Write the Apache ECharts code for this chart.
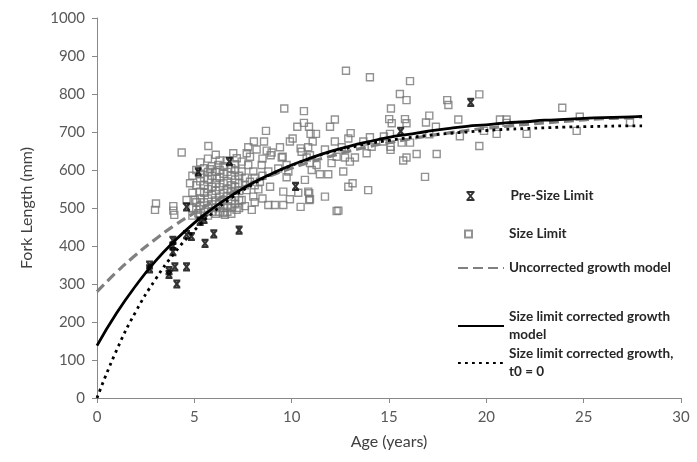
<!DOCTYPE html>
<html>
<head>
<meta charset="utf-8">
<script src="https://cdn.jsdelivr.net/npm/echarts@6/dist/echarts.min.js"></script>
<style>
    html, body { margin: 0; padding: 0; background: #fff; }
    #chart { width: 697px; height: 462px; }
</style>
</head>
<body>
<div id="chart"></div>
<script>
    // fish ages (years) and fork lengths (mm)
    var preSizeLimit = [
        [2.7, 350], [2.7, 340], [3.7, 335], [3.7, 325], [3.9, 415], [3.9, 400], [3.9, 385],
        [4.0, 345], [4.1, 300], [4.6, 345], [4.6, 430], [4.85, 425], [4.6, 503], [5.3, 465],
        [5.5, 470], [5.55, 407], [6.0, 432], [7.3, 442], [5.2, 595], [6.8, 622], [10.2, 557],
        [15.6, 702], [19.2, 778]
    ];

    var sizeLimit = [
        // left of the main cluster
        [4.35, 646], [5.72, 663], [4.78, 565], [3.03, 512], [2.98, 495], [3.92, 505], [3.92, 493],
        [3.97, 482], [4.6, 521], [5.03, 521], [5.29, 543], [5.2, 486], [5.8, 602], [6.23, 613],
        [6.15, 578], [5.9, 556], [7.0, 644], [7.18, 631], [6.57, 482], [6.49, 486], [7.17, 495],
        // dense cluster
        [4.9, 480], [4.9, 500], [4.9, 540], [4.9, 585],
        [5.1, 495], [5.1, 515], [5.1, 560], [5.1, 600],
        [5.3, 480], [5.3, 505], [5.3, 525], [5.3, 570], [5.3, 590], [5.3, 620],
        [5.5, 490], [5.5, 515], [5.5, 540], [5.5, 560], [5.5, 580], [5.5, 605],
        [5.7, 480], [5.7, 500], [5.7, 525], [5.7, 550], [5.7, 575], [5.7, 595], [5.7, 630],
        [5.9, 490], [5.9, 510], [5.9, 535], [5.9, 585], [5.9, 610],
        [6.1, 485], [6.1, 500], [6.1, 520], [6.1, 545], [6.1, 565], [6.1, 595], [6.1, 640],
        [6.3, 490], [6.3, 510], [6.3, 530], [6.3, 555], [6.3, 580], [6.3, 600], [6.3, 625],
        [6.5, 500], [6.5, 520], [6.5, 540], [6.5, 565], [6.5, 590], [6.5, 610],
        [6.7, 490], [6.7, 505], [6.7, 530], [6.7, 550], [6.7, 570], [6.7, 595], [6.7, 625],
        [6.9, 485], [6.9, 500], [6.9, 520], [6.9, 545], [6.9, 560], [6.9, 585], [6.9, 605],
        [7.1, 510], [7.1, 530], [7.1, 555], [7.1, 575], [7.1, 600], [7.1, 615],
        [7.3, 500], [7.3, 520], [7.3, 545], [7.3, 565], [7.3, 585],
        [7.6, 505], [7.6, 560], [7.6, 580], [8.1, 515], [8.1, 560], [8.1, 580],
        [8.5, 525], [8.5, 585], [8.5, 630],
        // ages 7.5 - 12.5
        [9.62, 762], [10.63, 755], [10.63, 724], [10.29, 714], [10.89, 714], [8.68, 703], [12.22, 733],
        [11.97, 714], [10.05, 683], [9.91, 675], [10.97, 695], [11.25, 695], [11.08, 675], [8.06, 675],
        [8.58, 675], [7.77, 660], [8.2, 654], [8.72, 651], [9.4, 660], [10.46, 657], [10.85, 660],
        [8.92, 639], [9.54, 635], [10.94, 639], [11.71, 654], [12.22, 675], [7.86, 635],
        [7.69, 644], [8.97, 646], [9.49, 633], [10.51, 648], [10.77, 633], [7.43, 622], [7.77, 613],
        [8.46, 613], [9.31, 604], [9.74, 613], [10.94, 618], [11.28, 613], [12.05, 618], [12.31, 635],
        [7.43, 596], [8.03, 596], [8.8, 596], [9.83, 596], [11.03, 600], [11.45, 589], [11.88, 589],
        [10.68, 574], [9.74, 581], [7.86, 569], [8.37, 569], [7.69, 547], [8.29, 549], [8.89, 556],
        [9.57, 543], [9.91, 523], [10.34, 540], [10.85, 543], [10.94, 523], [11.71, 530], [7.43, 521],
        [8.03, 530], [8.8, 508], [9.14, 508], [9.57, 508], [10.46, 503], [7.95, 495], [12.31, 492],
        [10.9, 539], [10.9, 521],
        // ages 12.5 - 18
        [12.79, 861], [14.02, 844], [16.08, 834], [15.56, 800], [15.9, 784], [17.99, 784], [18.05, 771],
        [15.1, 762], [17.07, 743], [15.01, 734], [15.14, 723], [15.82, 734], [15.9, 723], [16.9, 725],
        [17.41, 714], [13.03, 697], [12.91, 683], [13.68, 675], [14.02, 686], [14.74, 688], [15.05, 695],
        [14.11, 661], [14.7, 675], [15.65, 672], [16.08, 672], [17.07, 694], [15.08, 661], [15.08, 653],
        [13.85, 644], [12.57, 660], [16.42, 642], [17.45, 642], [12.74, 633], [13.25, 633], [15.9, 633],
        [15.73, 625], [12.99, 622], [12.65, 596], [16.85, 582], [13.13, 565], [12.91, 556], [13.93, 547],
        [12.4, 493],
        // older fish
        [19.64, 799], [18.56, 733], [19.64, 663], [20.53, 695], [23.9, 764], [24.8, 740], [27.38, 725],
        [20.7, 733], [21.04, 733], [21.04, 724], [18.64, 689], [19.88, 703], [22.07, 695], [24.64, 703]
    ];

    // growth model curves, one value per year of age
    var curveAges = [0, 1, 2, 3, 4, 5, 6, 7, 8, 9, 10, 11, 12, 13, 14, 15, 16, 17, 18, 19, 20,
        21, 22, 23, 24, 25, 26, 27, 28];
    var uncorrected = [280, 331, 377, 418, 455, 487, 517, 543, 566, 587, 605, 622, 636, 650, 662,
        672, 681, 690, 697, 704, 710, 715, 720, 724, 728, 732, 735, 737, 740];
    var corrected = [138, 223, 296, 360, 414, 461, 501, 536, 566, 591, 613, 632, 649, 663, 675,
        686, 694, 702, 709, 715, 719, 724, 727, 731, 733, 736, 738, 739, 741];
    var correctedT0 = [0, 125, 228, 312, 383, 441, 490, 530, 562, 590, 612, 631, 647, 659, 670,
        678, 685, 691, 696, 700, 704, 707, 709, 711, 713, 714, 715, 716, 716];

    var names = ['Pre-Size Limit', 'Size Limit', 'Uncorrected growth model',
        'Size limit corrected growth\nmodel', 'Size limit corrected growth,\nt0 = 0'];

    function pairs(xs, ys) {
        var out = [];
        for (var i = 0; i < xs.length; i++) out.push([xs[i], ys[i]]);
        return out;
    }

    var xMark = 'path://M0,0H10M0,10H10M1,0L9,10M9,0L1,10';
    var font = 'Lato, "Open Sans", sans-serif';
    var legendText = { fontFamily: font, fontWeight: 'bold', fontSize: 13.5, color: '#262626' };

    function oneLegend(name, left, top, w, h, extra, hideSymbol) {
        var ts = Object.assign({}, legendText, extra || {});
        var lg = {
            data: [name], left: left, top: top, itemWidth: w, itemHeight: h,
            padding: 0, selectedMode: false, orient: 'vertical', textStyle: ts
        };
        if (hideSymbol) lg.itemStyle = { opacity: 0 };
        return lg;
    }

    var chart = echarts.init(document.getElementById('chart'), null, { renderer: 'canvas' });
    chart.setOption({
        animation: false,
        backgroundColor: '#fff',
        grid: { left: 97, right: 16, top: 18, bottom: 64 },
        legend: [
            oneLegend(names[0], 464, 189, 8, 8, { padding: [0, 0, 0, 31] }),
            oneLegend(names[1], 464, 227, 7, 7, { padding: [0, 0, 0, 32] }),
            oneLegend(names[2], 457, 261, 46, 14, null, true),
            oneLegend(names[3], 457, 299, 46, 14, { lineHeight: 18, padding: [18, 0, 0, 0] }, true),
            oneLegend(names[4], 457, 336, 46, 14, { lineHeight: 18, padding: [18, 0, 0, 0] }, true)
        ],
        xAxis: {
            type: 'value', min: 0, max: 30, interval: 5,
            name: 'Age (years)', nameLocation: 'middle', nameGap: 36,
            nameTextStyle: { fontFamily: font, fontSize: 16, color: '#404040' },
            axisLine: { lineStyle: { color: '#888', width: 1 } },
            axisTick: { show: true, length: 5, lineStyle: { color: '#888' } },
            axisLabel: { fontFamily: font, fontSize: 15, color: '#595959', margin: 12 },
            splitLine: { show: false }
        },
        yAxis: {
            type: 'value', min: 0, max: 1000, interval: 100,
            name: 'Fork Length (mm)', nameLocation: 'middle', nameGap: 62,
            nameTextStyle: { fontFamily: font, fontSize: 16, color: '#404040' },
            axisLine: { show: true, lineStyle: { color: '#888', width: 1 } },
            axisTick: { show: true, length: 5, lineStyle: { color: '#888' } },
            axisLabel: {
                fontFamily: font, fontSize: 15, color: '#595959', margin: 12,
                formatter: function (v) { return String(v); }
            },
            splitLine: { show: false }
        },
        series: [
            {
                name: names[1], type: 'scatter', data: sizeLimit,
                symbol: 'rect', symbolSize: 7,
                itemStyle: { color: 'rgba(255,255,255,0)', borderColor: '#777', borderWidth: 1.4 }
            },
            {
                name: names[2], type: 'line', data: pairs(curveAges, uncorrected),
                smooth: true, symbol: 'none',
                lineStyle: { color: '#808080', width: 3.2, type: [10, 5] },
                itemStyle: { color: '#808080' }
            },
            {
                name: names[3], type: 'line', data: pairs(curveAges, corrected),
                smooth: true, symbol: 'none',
                lineStyle: { color: '#000', width: 2.8 },
                itemStyle: { color: '#000' }
            },
            {
                name: names[4], type: 'line', data: pairs(curveAges, correctedT0),
                smooth: true, symbol: 'none',
                lineStyle: { color: '#000', width: 2.8, type: [2.8, 4.2], cap: 'butt' },
                itemStyle: { color: '#000' }
            },
            {
                name: names[0], type: 'scatter', data: preSizeLimit,
                symbol: xMark, symbolSize: 7,
                itemStyle: { color: 'none', borderColor: '#000', borderWidth: 2.2 }
            }
        ]
    });
</script>
</body>
</html>
